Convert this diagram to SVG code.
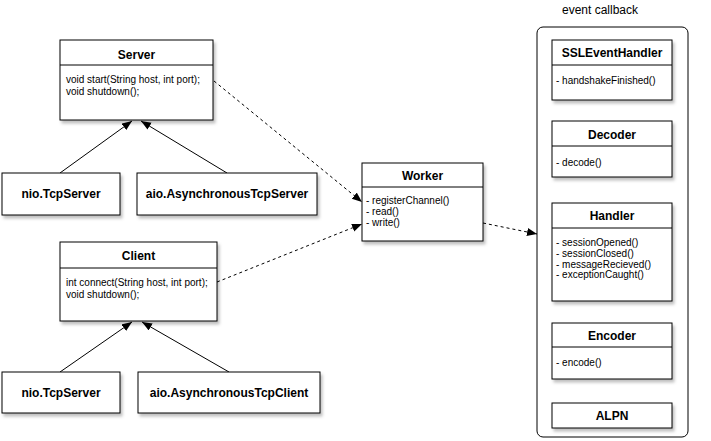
<svg xmlns="http://www.w3.org/2000/svg" width="711" height="441" viewBox="0 0 711 441">
  <style>
    .box { fill: #ffffff; stroke: #000000; stroke-width: 1; }
    .div { stroke: #000000; stroke-width: 1; fill: none; }
    .title { font-family: "Liberation Sans", Arial, sans-serif; font-size: 12px; font-weight: bold; fill: #000; text-anchor: middle; }
    .m { font-family: "Liberation Sans", Arial, sans-serif; font-size: 10px; fill: #000; }
    .lbl { font-family: "Liberation Sans", Arial, sans-serif; font-size: 12px; fill: #000; text-anchor: middle; }
    .solid { stroke: #000; stroke-width: 1; fill: none; }
    .dash { stroke: #000; stroke-width: 1; fill: none; stroke-dasharray: 3 3; }
  </style>
  <defs>
    <filter id="sh" x="-10%" y="-10%" width="130%" height="140%">
      <feDropShadow dx="2" dy="3" stdDeviation="1.5" flood-color="#000" flood-opacity="0.25"/>
    </filter>
    <marker id="arr" markerUnits="userSpaceOnUse" markerWidth="11" markerHeight="9" refX="10" refY="4" orient="auto">
      <path d="M0,0 L10,4 L0,8 z" fill="#000"/>
    </marker>
  </defs>
  <rect width="711" height="441" fill="#ffffff"/>

  <g id="connectors">
    <line class="solid" x1="60" y1="173" x2="132" y2="121" marker-end="url(#arr)"/>
    <line class="solid" x1="227" y1="173" x2="141" y2="121" marker-end="url(#arr)"/>
    <line class="solid" x1="60" y1="372" x2="132" y2="322" marker-end="url(#arr)"/>
    <line class="solid" x1="229" y1="372" x2="142" y2="322" marker-end="url(#arr)"/>
    <line class="dash" x1="214" y1="81" x2="362" y2="202" marker-end="url(#arr)"/>
    <line class="dash" x1="217" y1="282" x2="362" y2="224" marker-end="url(#arr)"/>
    <line class="dash" x1="483" y1="223" x2="537" y2="234" marker-end="url(#arr)"/>
  </g>

  <g id="server">
    <rect class="box" x="60" y="40" width="153" height="80" filter="url(#sh)"/>
    <line class="div" x1="60" y1="65" x2="213" y2="65"/>
    <text class="title" x="136.5" y="59">Server</text>
    <text class="m" x="66" y="83">void start(String host, int port);</text>
    <text class="m" x="66" y="94.5">void shutdown();</text>
  </g>

  <g id="nio-tcpserver-1">
    <rect class="box" x="2" y="173" width="118" height="42" filter="url(#sh)"/>
    <text class="title" x="61" y="198">nio.TcpServer</text>
  </g>

  <g id="aio-asynchronoustcpserver">
    <rect class="box" x="137" y="173" width="180" height="42" filter="url(#sh)"/>
    <text class="title" x="227" y="198">aio.AsynchronousTcpServer</text>
  </g>

  <g id="client">
    <rect class="box" x="60" y="242" width="157" height="79" filter="url(#sh)"/>
    <line class="div" x1="60" y1="268" x2="217" y2="268"/>
    <text class="title" x="138.5" y="260">Client</text>
    <text class="m" x="66" y="286">int connect(String host, int port);</text>
    <text class="m" x="66" y="297.5">void shutdown();</text>
  </g>

  <g id="nio-tcpserver-2">
    <rect class="box" x="2" y="372" width="118" height="41" filter="url(#sh)"/>
    <text class="title" x="61" y="397">nio.TcpServer</text>
  </g>

  <g id="aio-asynchronoustcpclient">
    <rect class="box" x="138" y="372" width="182" height="41" filter="url(#sh)"/>
    <text class="title" x="229" y="397">aio.AsynchronousTcpClient</text>
  </g>

  <g id="worker">
    <rect class="box" x="362" y="163" width="121" height="78" filter="url(#sh)"/>
    <line class="div" x1="362" y1="187" x2="483" y2="187"/>
    <text class="title" x="422.5" y="180">Worker</text>
    <text class="m" x="366" y="204">- registerChannel()</text>
    <text class="m" x="366" y="215">- read()</text>
    <text class="m" x="366" y="226">- write()</text>
  </g>

  <g id="event-callback">
    <text class="lbl" x="600" y="14">event callback</text>
    <rect x="537" y="27" width="151" height="410" rx="6" ry="6" fill="#ffffff" stroke="#000" stroke-width="1"/>
  </g>

  <g id="sslEventHandler">
    <rect class="box" x="552" y="40" width="120" height="60" filter="url(#sh)"/>
    <line class="div" x1="552" y1="65" x2="672" y2="65"/>
    <text class="title" x="612" y="57">SSLEventHandler</text>
    <text class="m" x="556" y="84">- handshakeFinished()</text>
  </g>

  <g id="decoder">
    <rect class="box" x="552" y="121" width="120" height="56" filter="url(#sh)"/>
    <line class="div" x1="552" y1="146" x2="672" y2="146"/>
    <text class="title" x="612" y="139">Decoder</text>
    <text class="m" x="556" y="166">- decode()</text>
  </g>

  <g id="handler">
    <rect class="box" x="552" y="203" width="120" height="98" filter="url(#sh)"/>
    <line class="div" x1="552" y1="228" x2="672" y2="228"/>
    <text class="title" x="612" y="220">Handler</text>
    <text class="m" x="556" y="246">- sessionOpened()</text>
    <text class="m" x="556" y="256.8">- sessionClosed()</text>
    <text class="m" x="556" y="267.6">- messageRecieved()</text>
    <text class="m" x="556" y="278.4">- exceptionCaught()</text>
  </g>

  <g id="encoder">
    <rect class="box" x="552" y="323" width="120" height="56" filter="url(#sh)"/>
    <line class="div" x1="552" y1="347" x2="672" y2="347"/>
    <text class="title" x="612" y="340">Encoder</text>
    <text class="m" x="556" y="366">- encode()</text>
  </g>

  <g id="alpn">
    <rect class="box" x="552" y="403" width="120" height="25" filter="url(#sh)"/>
    <text class="title" x="612" y="419.5">ALPN</text>
  </g>
</svg>
